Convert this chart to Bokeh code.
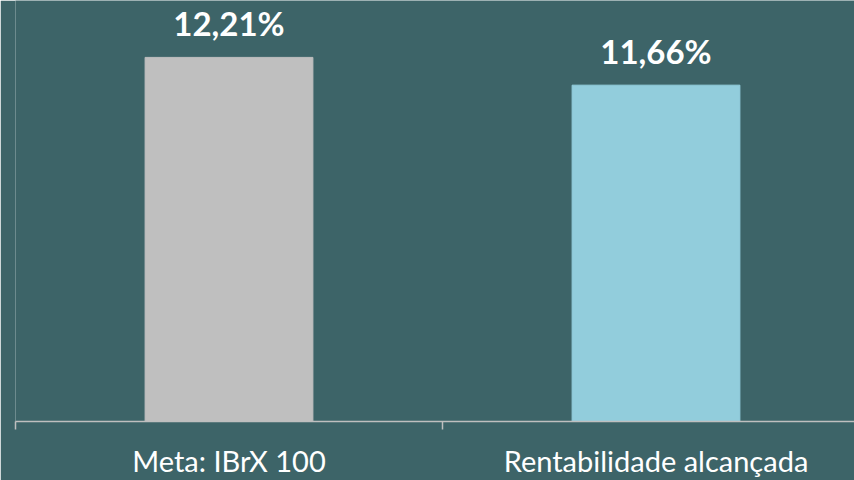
from bokeh.plotting import figure
from bokeh.models import Range1d, FixedTicker, ColumnDataSource, LabelSet
from bokeh.core.properties import value
from bokeh.embed import file_html
from bokeh.resources import INLINE

categories = ["Meta: IBrX 100", "Rentabilidade alcançada"]
values = [12.21, 11.66]
value_labels = ["12,21%", "11,66%"]
bar_colors = ["#BFBFBF", "#92CDDC"]

BG = "#3d6468"

xs = [i + 0.5 for i in range(len(categories))]
src = ColumnDataSource(dict(x=xs, top=values, label=value_labels, color=bar_colors))

p = figure(width=854, height=480, output_backend="svg", toolbar_location=None,
           x_range=Range1d(0, 839 / 427), y_range=Range1d(5, 5 + 422 / 50.62),
           min_border_left=15, min_border_right=0, min_border_top=0, min_border_bottom=58)
p.background_fill_color = BG
p.border_fill_color = BG
p.outline_line_color = None
p.grid.visible = False
p.yaxis.visible = False

p.vbar(x="x", top="top", bottom=5, width=0.393, color="color", source=src)

ax = p.xaxis[0]
ax.ticker = FixedTicker(ticks=xs, minor_ticks=[0, 1, 2])
ax.major_label_overrides = {x: c for x, c in zip(xs, categories)}
ax.major_tick_out = 0
ax.major_tick_in = 0
ax.minor_tick_out = 8
ax.minor_tick_in = 0
ax.minor_tick_line_color = "#BFBFBF"
ax.axis_line_color = "#BFBFBF"
ax.axis_line_width = 1.5
ax.minor_tick_line_width = 1.5
ax.major_label_text_color = "white"
ax.major_label_text_font = "Lato"
ax.major_label_text_font_size = "29px"
ax.major_label_standoff = 13

labels = LabelSet(x="x", y="top", text="label", source=src, y_offset=21,
                  text_align="center", text_baseline="alphabetic",
                  text_color="white", text_font=value("Lato"), text_font_style="bold",
                  text_font_size="33px")
p.add_layout(labels)

open("out.html", "w").write(file_html(p, INLINE))
